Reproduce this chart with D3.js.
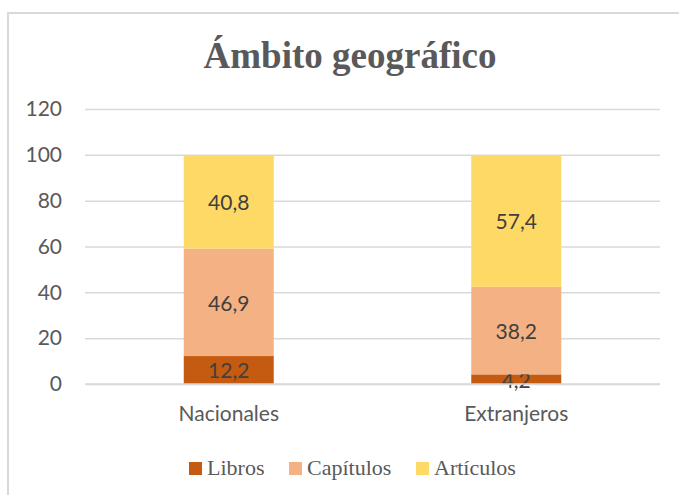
<!DOCTYPE html>
<html>
<head>
<meta charset="utf-8">
<script src="https://cdn.jsdelivr.net/npm/d3@7"></script>
<style>
  body { margin: 0; background: #fff; }
  svg { display: block; }
</style>
</head>
<body>
<div id="chart"></div>
<script>
// data
var categories = ["Nacionales", "Extranjeros"];
var series = ["Libros", "Capítulos", "Artículos"];
var libros = [12.2, 4.2];
var capitulos = [46.9, 38.2];
var articulos = [40.8, 57.4];
var yTicks = [0, 20, 40, 60, 80, 100, 120];
var colors = ["#C55A11", "#F4B183", "#FFD966"];

var width = 679, height = 495;
var margin = {top: 109, right: 19, bottom: 111, left: 85};

var svg = d3.select("#chart").append("svg")
  .attr("width", width)
  .attr("height", height);

// chart border (only top/left visible in the picture)
svg.append("rect")
  .attr("x", 8).attr("y", 13)
  .attr("width", 720).attr("height", 540)
  .attr("fill", "none")
  .attr("stroke", "#d9d9d9")
  .attr("stroke-width", 2);

svg.append("text")
  .attr("x", 350).attr("y", 68)
  .attr("text-anchor", "middle")
  .style("font-family", "'Liberation Serif', serif")
  .style("font-weight", "bold")
  .style("font-size", "37px")
  .attr("fill", "#595959")
  .text("Ámbito geográfico");

var rows = categories.map(function(c, i){
  return {cat: c, "Libros": libros[i], "Capítulos": capitulos[i], "Artículos": articulos[i]};
});

var x = d3.scaleBand().domain(categories).range([margin.left, width - margin.right]);
var y = d3.scaleLinear().domain([0, 120]).range([height - margin.bottom, margin.top]);
var color = d3.scaleOrdinal().domain(series).range(colors);

var barW = x.bandwidth() * 0.313;

// gridlines + y labels
var yAxis = svg.append("g")
  .attr("transform", "translate(" + margin.left + ",0)")
  .call(d3.axisLeft(y).tickValues(yTicks).tickSize(-(width - margin.right - margin.left)).tickPadding(23));
yAxis.select(".domain").remove();
yAxis.selectAll(".tick line").attr("stroke", "#d9d9d9").attr("stroke-width", 1.5);
yAxis.selectAll(".tick text")
  .attr("fill", "#595959")
  .style("font-family", "Lato, sans-serif")
  .style("font-size", "21px");

var stacked = d3.stack().keys(series)(rows);

var layers = svg.selectAll(".layer")
  .data(stacked)
  .enter().append("g")
  .attr("class", "layer")
  .attr("fill", function(d){ return color(d.key); });

layers.selectAll("rect")
  .data(function(d){ return d; })
  .enter().append("rect")
  .attr("x", function(d){ return x(d.data.cat) + (x.bandwidth() - barW) / 2; })
  .attr("y", function(d){ return y(d[1]); })
  .attr("width", barW)
  .attr("height", function(d){ return y(d[0]) - y(d[1]); });

// x axis line drawn over bars
svg.append("line")
  .attr("x1", margin.left).attr("x2", width - margin.right)
  .attr("y1", y(0)).attr("y2", y(0))
  .attr("stroke", "#d9d9d9").attr("stroke-width", 1.5);

// value labels
layers.selectAll("text")
  .data(function(d){ return d; })
  .enter().append("text")
  .attr("x", function(d){ return x(d.data.cat) + x.bandwidth() / 2; })
  .attr("y", function(d){ return (y(d[0]) + y(d[1])) / 2; })
  .attr("dy", "0.4em")
  .attr("text-anchor", "middle")
  .attr("fill", "#404040")
  .style("font-family", "Lato, sans-serif")
  .style("font-size", "21px")
  .text(function(d){ return d3.format(".1f")(d[1] - d[0]).replace(".", ","); });

// category labels
var xAxis = svg.append("g")
  .attr("transform", "translate(0," + y(0) + ")")
  .call(d3.axisBottom(x).tickSize(0).tickPadding(22));
xAxis.select(".domain").remove();
xAxis.selectAll(".tick text")
  .attr("fill", "#595959")
  .style("font-family", "Lato, sans-serif")
  .style("font-size", "21px");

// legend
var legendX = [189, 289, 416];
var legend = svg.selectAll(".legend")
  .data(series)
  .enter().append("g")
  .attr("class", "legend")
  .attr("transform", function(d, i){ return "translate(" + legendX[i] + ",462)"; });
legend.append("rect")
  .attr("width", 13).attr("height", 13)
  .attr("fill", function(d){ return color(d); });
legend.append("text")
  .attr("x", 18).attr("y", 13)
  .attr("fill", "#595959")
  .style("font-family", "'Liberation Serif', serif")
  .style("font-size", "22px")
  .text(function(d){ return d; });
</script>
</body>
</html>
